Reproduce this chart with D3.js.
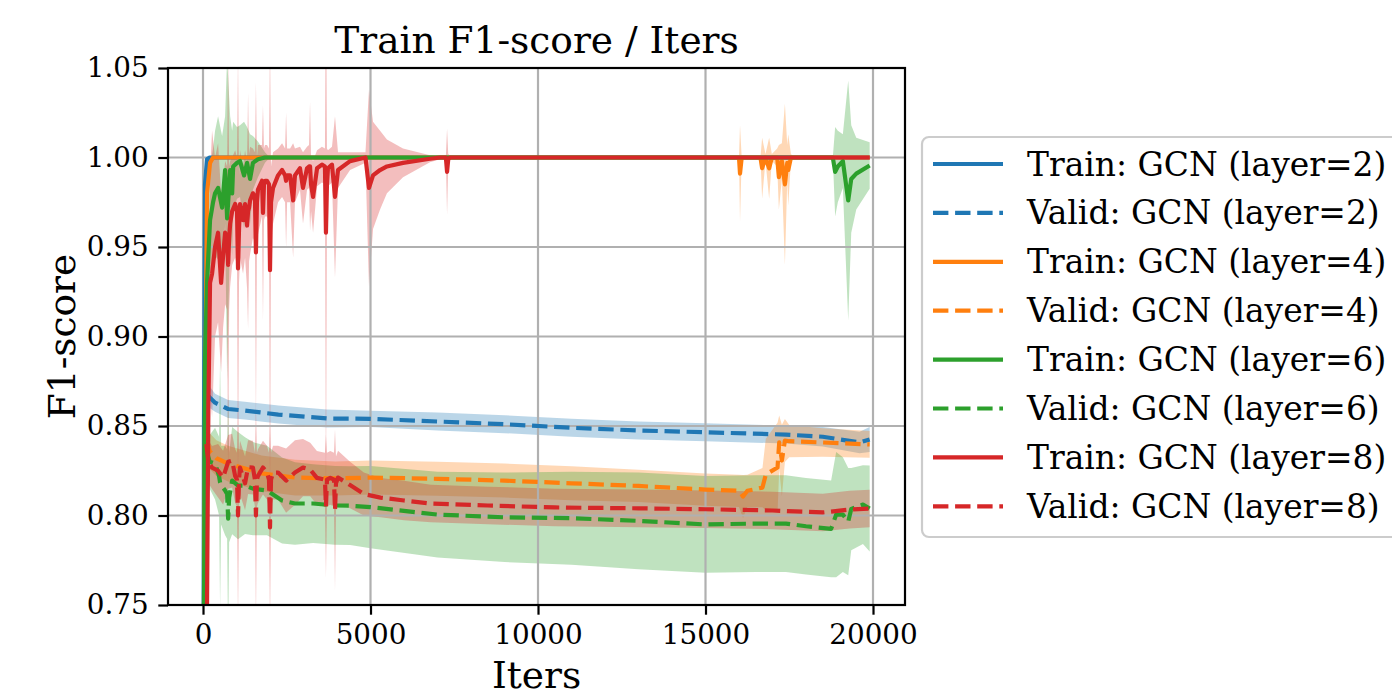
<!DOCTYPE html>
<html>
<head>
<meta charset="utf-8">
<script src="https://d3js.org/d3.v7.min.js"></script>
<style>
  body { margin: 0; background: #fff; }
  text { font-family: "DejaVu Serif", serif; }
</style>
</head>
<body>
<svg id="chart" width="1392" height="695"></svg>
<script>
// ---------------------
// Data: iters, mean F1, std
// ---------------------

var trainX2 = [0, 30, 60, 120, 200, 19900];
var trainM2 = [0.55, 0.85, 0.985, 0.999, 1.0, 1.0];
var trainS2 = [0, 0.01, 0.005, 0.001, 0, 0];

var validX2 = [100, 200, 360, 750, 1250, 2250, 3700, 5000, 7000, 9000, 11000, 13000, 15000, 17400, 18500, 19600, 19900];
var validM2 = [0.868, 0.866, 0.863, 0.8595, 0.8586, 0.8564, 0.8542, 0.854, 0.8525, 0.851, 0.849, 0.8475, 0.8465, 0.8452, 0.844, 0.8408, 0.8425];
var validS2 = [0.006, 0.006, 0.005, 0.005, 0.005, 0.005, 0.005, 0.0045, 0.005, 0.005, 0.005, 0.005, 0.005, 0.005, 0.0055, 0.006, 0.007];

var trainX4 = [0, 30, 60, 120, 210, 300, 16000, 16030, 16080, 16640, 16690, 16790, 16900, 16980, 17140, 17190, 17280, 17370, 17440, 17470, 17550, 17650, 19900];
var trainM4 = [0.55, 0.75, 0.85, 0.98, 0.997, 1.0, 1.0, 0.991, 1.0, 1.0, 0.994, 1.0, 0.994, 1.0, 1.0, 0.989, 0.998, 0.985, 0.997, 0.993, 1.0, 1.0, 1.0];
var trainS4 = [0, 0.02, 0.03, 0.01, 0.003, 0, 0, 0.027, 0, 0, 0.017, 0.002, 0.017, 0.002, 0.005, 0.018, 0.01, 0.045, 0.01, 0.02, 0.002, 0, 0];

var validX4 = [100, 200, 400, 750, 1750, 2750, 3950, 5000, 7000, 9000, 11000, 13000, 15000, 16000, 16120, 16250, 16700, 16800, 17150, 17200, 17280, 17370, 17500, 18500, 19900];
var validM4 = [0.843, 0.836, 0.832, 0.829, 0.8235, 0.8212, 0.8207, 0.8212, 0.8205, 0.8195, 0.818, 0.8165, 0.8145, 0.8138, 0.8106, 0.8138, 0.8156, 0.8229, 0.8268, 0.8408, 0.8307, 0.8419, 0.8415, 0.8408, 0.8397];
var validS4 = [0.01, 0.01, 0.01, 0.01, 0.01, 0.01, 0.0095, 0.0095, 0.0095, 0.0095, 0.0095, 0.009, 0.009, 0.009, 0.012, 0.009, 0.011, 0.02, 0.025, 0.015, 0.02, 0.012, 0.009, 0.008, 0.0075];

var trainX6 = [0, 30, 60, 120, 210, 300, 360, 450, 570, 660, 720, 810, 870, 900, 1015, 1105, 1225, 1315, 1405, 1490, 1640, 1850, 2000, 18800, 18870, 18950, 19100, 19260, 19350, 19500, 19900];
var trainM6 = [0.55, 0.75, 0.886, 0.93, 0.965, 0.975, 0.98, 0.983, 0.972, 0.993, 0.966, 0.993, 0.98, 0.995, 0.997, 0.998, 0.99, 0.997, 0.988, 0.997, 0.999, 1.0, 1.0, 1.0, 0.992, 0.995, 0.998, 0.976, 0.988, 0.991, 0.9955];
var trainS6 = [0, 0.03, 0.04, 0.03, 0.03, 0.03, 0.035, 0.04, 0.04, 0.03, 0.09, 0.03, 0.035, 0.025, 0.02, 0.02, 0.03, 0.02, 0.025, 0.015, 0.01, 0.003, 0, 0, 0.025, 0.02, 0.015, 0.067, 0.03, 0.02, 0.013];

var validX6 = [100, 200, 360, 480, 510, 540, 660, 720, 750, 780, 870, 1045, 1255, 1490, 1910, 2360, 2745, 3285, 3940, 4390, 5000, 7000, 9000, 11000, 13000, 15000, 16500, 17400, 18000, 18750, 18900, 19100, 19260, 19350, 19700, 19900];
var validM6 = [0.8365, 0.83, 0.829, 0.822, 0.8184, 0.817, 0.814, 0.812, 0.7983, 0.81, 0.8195, 0.8167, 0.8167, 0.815, 0.814, 0.8084, 0.8067, 0.8067, 0.8056, 0.8055, 0.8047, 0.8005, 0.799, 0.7985, 0.797, 0.795, 0.7955, 0.7955, 0.794, 0.7925, 0.8005, 0.8005, 0.7966, 0.8036, 0.8061, 0.8039];
var validS6 = [0.012, 0.015, 0.02, 0.022, 0.07, 0.022, 0.025, 0.025, 0.07, 0.025, 0.03, 0.03, 0.027, 0.026, 0.025, 0.024, 0.023, 0.022, 0.022, 0.022, 0.023, 0.024, 0.025, 0.026, 0.027, 0.027, 0.027, 0.027, 0.027, 0.027, 0.035, 0.032, 0.03, 0.023, 0.022, 0.024];

var trainX8 = [0, 60, 120, 160, 210, 270, 360, 450, 540, 600,
  660, 720, 750, 780, 810, 870, 960, 1015, 1045, 1075,
  1105, 1195, 1255, 1315, 1345, 1375, 1405, 1490, 1550, 1580,
  1610, 1640, 1760, 1790, 1820, 1850, 1910, 1970, 2000, 2030,
  2090, 2240, 2360, 2450, 2480, 2510, 2600, 2690, 2745, 2895,
  2985, 3105, 3165, 3195, 3225, 3285, 3405, 3550, 3640, 3670,
  3700, 3730, 3850, 3940, 4030, 4390, 4850, 4955, 5075, 5285,
  5490, 5970, 6775, 7075, 7250, 7285, 7320, 7375, 7600, 19900];
var trainM8 = [0.55, 0.62, 0.75, 0.86, 0.93, 0.935, 0.95, 0.958, 0.93, 0.945,
  0.958, 0.955, 0.94, 0.955, 0.963, 0.97, 0.974, 0.97, 0.938, 0.96,
  0.974, 0.965, 0.974, 0.962, 0.97, 0.972, 0.976, 0.98, 0.978, 0.947,
  0.975, 0.982, 0.987, 0.969, 0.985, 0.987, 0.987, 0.985, 0.937, 0.975,
  0.983, 0.99, 0.993, 0.99, 0.987, 0.99, 0.99, 0.976, 0.99, 0.994,
  0.983, 0.994, 0.995, 0.995, 0.985, 0.978, 0.994, 0.996, 0.995, 0.958,
  0.985, 0.994, 0.996, 0.978, 0.993, 0.998, 1.0, 0.983, 0.99, 0.993,
  0.995, 0.997, 0.9993, 1.0, 1.0, 0.992, 0.999, 1.0, 1.0, 1.0];
var trainS8 = [0, 0.02, 0.04, 0.05, 0.06, 0.08, 0.05, 0.05, 0.05, 0.04,
  0.04, 0.04, 0.12, 0.04, 0.035, 0.03, 0.03, 0.03, 0.12, 0.03,
  0.03, 0.03, 0.03, 0.035, 0.066, 0.03, 0.03, 0.025, 0.025, 0.095,
  0.025, 0.025, 0.02, 0.06, 0.02, 0.02, 0.02, 0.02, 0.13, 0.02,
  0.02, 0.015, 0.015, 0.015, 0.038, 0.015, 0.015, 0.032, 0.015, 0.012,
  0.02, 0.012, 0.012, 0.036, 0.015, 0.02, 0.01, 0.01, 0.01, 0.15,
  0.02, 0.01, 0.01, 0.045, 0.01, 0.005, 0.003, 0.055, 0.03, 0.022,
  0.015, 0.008, 0.002, 0.001, 0.001, 0.024, 0.003, 0.001, 0, 0];

var validX8 = [100, 160, 270, 450, 600, 750, 870, 960, 1015, 1045,
  1075, 1105, 1255, 1345, 1490, 1550, 1580, 1610, 1640, 1790,
  1910, 1970, 2000, 2030, 2090, 2240, 2480, 2745, 2985, 3200,
  3400, 3640, 3670, 3700, 3800, 3910, 3940, 3970, 4030, 4390,
  4800, 5300, 6000, 6800, 8500, 10500, 13000, 15000, 17000, 18500,
  19300, 19900];
var validM8 = [0.84, 0.83, 0.8268, 0.825, 0.8212, 0.83, 0.8307, 0.822, 0.82, 0.8,
  0.82, 0.8268, 0.818, 0.827, 0.8268, 0.82, 0.8, 0.82, 0.822, 0.8268,
  0.824, 0.82, 0.7933, 0.82, 0.824, 0.824, 0.8195, 0.824, 0.8268, 0.8257,
  0.821, 0.82, 0.805, 0.82, 0.821, 0.82, 0.803, 0.818, 0.8212, 0.817,
  0.812, 0.81, 0.8084, 0.8067, 0.8056, 0.8045, 0.804, 0.8035, 0.8028, 0.8017,
  0.8033, 0.8039];
var validS8 = [0.01, 0.012, 0.012, 0.015, 0.015, 0.015, 0.015, 0.015, 0.015, 0.06,
  0.015, 0.015, 0.015, 0.015, 0.015, 0.015, 0.06, 0.015, 0.015, 0.015,
  0.015, 0.015, 0.06, 0.015, 0.015, 0.015, 0.018, 0.018, 0.016, 0.015,
  0.015, 0.015, 0.04, 0.015, 0.015, 0.015, 0.045, 0.015, 0.015, 0.013,
  0.012, 0.011, 0.011, 0.0105, 0.0105, 0.0105, 0.0105, 0.0105, 0.0105, 0.0105,
  0.0105, 0.0105];

var xTicks = [0, 5000, 10000, 15000, 20000];
var yTicks = [0.75, 0.80, 0.85, 0.90, 0.95, 1.00, 1.05];

var labels = ["Train: GCN (layer=2)", "Valid: GCN (layer=2)", "Train: GCN (layer=4)", "Valid: GCN (layer=4)",
              "Train: GCN (layer=6)", "Valid: GCN (layer=6)", "Train: GCN (layer=8)", "Valid: GCN (layer=8)"];
var colors = ["#1f77b4", "#1f77b4", "#ff7f0e", "#ff7f0e", "#2ca02c", "#2ca02c", "#d62728", "#d62728"];

// ---------------------
// build series
// ---------------------
function pack(xs, ms, ss) {
  return xs.map(function(v, i) { return { x: v, m: ms[i], s: ss[i] }; });
}
var series = [
  pack(trainX2, trainM2, trainS2), pack(validX2, validM2, validS2),
  pack(trainX4, trainM4, trainS4), pack(validX4, validM4, validS4),
  pack(trainX6, trainM6, trainS6), pack(validX6, validM6, validS6),
  pack(trainX8, trainM8, trainS8), pack(validX8, validM8, validS8)
];

var axL = 168, axR = 905, axT = 68, axB = 605;
var lw = 4.2;
var dash = "15.4,6.7";

var svg = d3.select("#chart");
var x = d3.scaleLinear().domain([-1045, 20955]).range([axL, axR]);
var y = d3.scaleLinear().domain([0.75, 1.05]).range([axB, axT]);

svg.append("defs").append("clipPath").attr("id", "clip")
  .append("rect").attr("x", axL).attr("y", axT)
  .attr("width", axR - axL).attr("height", axB - axT);

var area = d3.area()
  .x(function(d) { return x(d.x); })
  .y0(function(d) { return y(d.m - d.s); })
  .y1(function(d) { return y(d.m + d.s); });
var line = d3.line()
  .x(function(d) { return x(d.x); })
  .y(function(d) { return y(d.m); });

var plot = svg.append("g").attr("clip-path", "url(#clip)");

// bands first (matplotlib draws fills below grid and lines)
series.forEach(function(s, i) {
  plot.append("path").datum(s).attr("d", area)
    .attr("fill", colors[i]).attr("fill-opacity", 0.3).attr("stroke", "none");
});

// grid
var grid = svg.append("g");
grid.selectAll(".gx").data(xTicks).enter().append("line")
  .attr("x1", function(d) { return x(d); }).attr("x2", function(d) { return x(d); })
  .attr("y1", axT).attr("y2", axB)
  .attr("stroke", "#b0b0b0").attr("stroke-width", 2.2);
grid.selectAll(".gy").data(yTicks).enter().append("line")
  .attr("x1", axL).attr("x2", axR)
  .attr("y1", function(d) { return y(d); }).attr("y2", function(d) { return y(d); })
  .attr("stroke", "#b0b0b0").attr("stroke-width", 2.2);

// lines
var lines = svg.append("g").attr("clip-path", "url(#clip)");
series.forEach(function(s, i) {
  lines.append("path").datum(s).attr("d", line)
    .attr("fill", "none").attr("stroke", colors[i]).attr("stroke-width", lw)
    .attr("stroke-linejoin", "round")
    .attr("stroke-dasharray", i % 2 == 1 ? dash : null);
});

// axes
var xAxis = d3.axisBottom(x).tickValues(xTicks).tickFormat(d3.format("d"))
  .tickSize(9.7).tickPadding(9.7);
var yAxis = d3.axisLeft(y).tickValues(yTicks).tickFormat(d3.format(".2f"))
  .tickSize(9.7).tickPadding(9.7);

var gx = svg.append("g").attr("transform", "translate(0," + axB + ")").call(xAxis);
var gy = svg.append("g").attr("transform", "translate(" + axL + ",0)").call(yAxis);
[gx, gy].forEach(function(g) {
  g.select(".domain").remove();
  g.selectAll(".tick line").attr("stroke", "#000").attr("stroke-width", 2.2);
  g.selectAll(".tick text").attr("fill", "#000")
    .style("font-family", "DejaVu Serif").style("font-size", "27.8px");
});

// spines
svg.append("rect").attr("x", axL).attr("y", axT)
  .attr("width", axR - axL).attr("height", axB - axT)
  .attr("fill", "none").attr("stroke", "#000").attr("stroke-width", 2.2);

// title & labels
svg.append("text").attr("x", (axL + axR) / 2).attr("y", 53)
  .attr("text-anchor", "middle").style("font-size", "37.5px")
  .text("Train F1-score / Iters");
svg.append("text").attr("x", (axL + axR) / 2).attr("y", 688)
  .attr("text-anchor", "middle").style("font-size", "37.5px")
  .text("Iters");
svg.append("text").attr("transform", "translate(75," + (axT + axB) / 2 + ") rotate(-90)")
  .attr("text-anchor", "middle").style("font-size", "37.5px")
  .text("F1-score");

// legend
var leg = svg.append("g");
leg.append("rect").attr("x", 922).attr("y", 137).attr("width", 490).attr("height", 400)
  .attr("rx", 7).attr("fill", "#fff").attr("fill-opacity", 0.8)
  .attr("stroke", "#cccccc").attr("stroke-width", 2.2);
labels.forEach(function(t, i) {
  var cy = 164 + i * 48.9;
  leg.append("line").attr("x1", 933).attr("x2", 1003).attr("y1", cy).attr("y2", cy)
    .attr("stroke", colors[i]).attr("stroke-width", lw)
    .attr("stroke-dasharray", i % 2 == 1 ? dash : null);
  leg.append("text").attr("x", 1027).attr("y", cy).attr("dy", "0.35em")
    .style("font-size", "32.9px").text(t);
});
</script>
</body>
</html>
